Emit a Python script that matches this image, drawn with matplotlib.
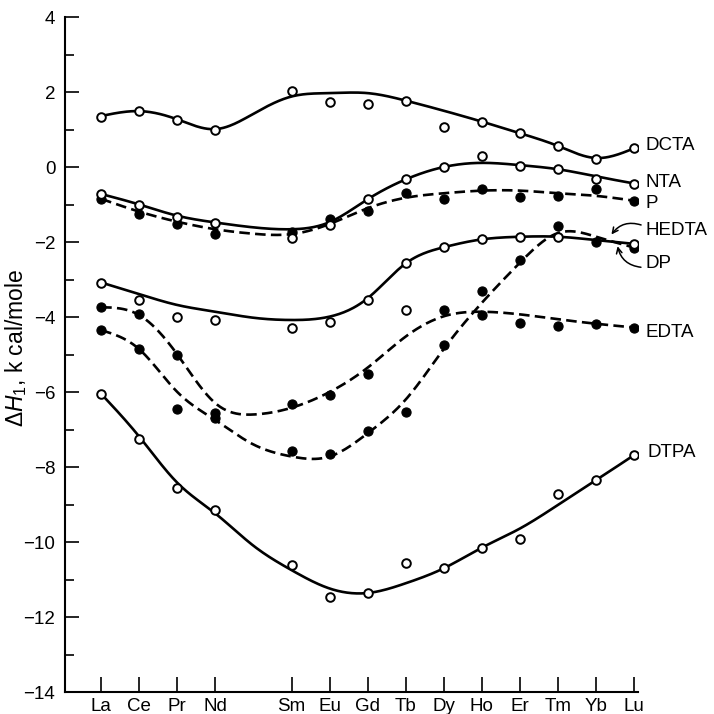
import matplotlib
matplotlib.use("Agg")
import matplotlib.pyplot as plt
import numpy as np

plt.rcParams['font.family'] = ['Liberation Sans', 'DejaVu Sans']
plt.rcParams['mathtext.fontset'] = 'custom'
plt.rcParams['mathtext.rm'] = 'Liberation Sans'
plt.rcParams['mathtext.it'] = 'Liberation Sans:italic'

# element labels and atomic numbers (Pm has no data)
elements = ['La', 'Ce', 'Pr', 'Nd', 'Sm', 'Eu', 'Gd', 'Tb', 'Dy', 'Ho', 'Er', 'Tm', 'Yb', 'Lu']
z_pts = [57, 58, 59, 60, 62, 63, 64, 65, 66, 67, 68, 69, 70, 71]
z_curve = list(range(57, 72))   # La .. Lu incl. Pm

# measured points
dcta_pts = [1.34, 1.50, 1.25, 0.99, 2.03, 1.74, 1.68, 1.77, 1.06, 1.21, 0.90, 0.56, 0.21, 0.50]
nta_pts = [-0.73, -1.00, -1.32, -1.48, -1.88, -1.55, -0.84, -0.33, 0.01, 0.29, 0.03, -0.04, -0.33, -0.44]
p_pts = [-0.85, -1.24, -1.52, -1.79, -1.72, -1.39, -1.16, -0.68, -0.84, -0.59, -0.81, -0.76, -0.59, -0.90]
dp_pts = [-3.08, -3.55, -4.01, -4.08, -4.30, -4.12, -3.55, -2.57, -2.14, -1.93, -1.86, -1.86, np.nan, -2.05]
dp_extra_z = [65]
dp_extra_pts = [-3.81]
edta_pts = [-3.74, -3.92, -5.01, -6.55, -6.32, -6.08, -5.52, np.nan, -3.81, -3.95, -4.17, -4.24, -4.19, -4.28]
hedta_pts = [-4.35, -4.86, -6.44, -6.68, -7.57, -7.66, -7.03, -6.52, -4.75, -3.30, -2.48, -1.57, -1.99, -2.17]
dtpa_pts = [-6.05, -7.25, -8.57, -9.15, -10.60, -11.47, -11.35, -10.55, -10.70, -10.15, -9.93, -8.72, -8.35, -7.68]

# hand-drawn curves, read at each element position (La..Lu incl. Pm)
dcta_curve = [1.36, 1.49, 1.27, 1.01, 1.42, 1.88, 1.97, 1.97, 1.77, 1.50, 1.21, 0.90, 0.56, 0.24, 0.50]
nta_curve = [-0.72, -1.00, -1.30, -1.48, -1.61, -1.66, -1.47, -0.86, -0.33, 0.00, 0.11, 0.05, -0.06, -0.25, -0.44]
p_curve = [-0.85, -1.19, -1.46, -1.66, -1.78, -1.79, -1.52, -1.10, -0.82, -0.70, -0.63, -0.63, -0.70, -0.77, -0.90]
dp_curve = [-3.08, -3.39, -3.68, -3.86, -4.02, -4.08, -3.99, -3.50, -2.57, -2.14, -1.93, -1.86, -1.86, -1.95, -2.05]
edta_curve = [-3.74, -3.95, -5.00, -6.30, -6.60, -6.42, -6.00, -5.35, -4.52, -3.98, -3.86, -3.93, -4.06, -4.18, -4.28]
hedta_curve = [-4.35, -4.86, -6.00, -6.75, -7.40, -7.72, -7.72, -7.10, -6.20, -4.85, -3.62, -2.55, -1.76, -1.86, -2.15]
dtpa_curve = [-6.05, -7.19, -8.42, -9.24, -10.10, -10.75, -11.24, -11.36, -11.10, -10.70, -10.15, -9.64, -9.01, -8.35, -7.68]


def smooth(xk, yk, n=24):
    # natural cubic spline through the read knots, only for drawing the line
    xk = np.asarray(xk, float)
    yk = np.asarray(yk, float)
    k = len(xk)
    h = np.diff(xk)
    A = np.zeros((k, k))
    b = np.zeros(k)
    A[0, 0] = A[-1, -1] = 1
    for i in range(1, k - 1):
        A[i, i - 1] = h[i - 1]
        A[i, i] = 2 * (h[i - 1] + h[i])
        A[i, i + 1] = h[i]
        b[i] = 6 * ((yk[i + 1] - yk[i]) / h[i] - (yk[i] - yk[i - 1]) / h[i - 1])
    M = np.linalg.solve(A, b)
    xs, ys = [], []
    for i in range(k - 1):
        t = np.linspace(0, h[i], n, endpoint=False)
        a = (h[i] - t) / h[i]
        c = t / h[i]
        y = (a * yk[i] + c * yk[i + 1]
             + ((a**3 - a) * M[i] + (c**3 - c) * M[i + 1]) * h[i]**2 / 6)
        xs.append(xk[i] + t)
        ys.append(y)
    xs.append([xk[-1]])
    ys.append([yk[-1]])
    return np.concatenate(xs), np.concatenate(ys)


fig = plt.figure(figsize=(7.14, 7.14), dpi=100)
ax = fig.add_axes([65 / 714, 1 - 692 / 714, 573 / 714, 675 / 714])

lw = 1.9
dash = (4.0, 2.0)
curves = [
    (dcta_curve, '-'), (nta_curve, '-'), (p_curve, '--'), (dp_curve, '-'),
    (edta_curve, '--'), (hedta_curve, '--'), (dtpa_curve, '-'),
]
for yk, ls in curves:
    xs, ys = smooth(z_curve, yk)
    line, = ax.plot(xs, ys, color='black', lw=lw, solid_capstyle='round', zorder=2)
    if ls == '--':
        line.set_dashes(dash)

open_kw = dict(ls='none', marker='o', ms=6.2, mfc='white', mec='black', mew=1.4, zorder=4)
fill_kw = dict(ls='none', marker='o', ms=6.6, mfc='black', mec='black', mew=0.8, zorder=3)

ax.plot(z_pts, p_pts, **fill_kw)
ax.plot(z_pts, edta_pts, **fill_kw)
ax.plot(z_pts, hedta_pts, **fill_kw)
ax.plot(z_pts, dcta_pts, **open_kw)
ax.plot(z_pts, nta_pts, **open_kw)
ax.plot(z_pts, dp_pts, **open_kw)
ax.plot(dp_extra_z, dp_extra_pts, **open_kw)
ax.plot(z_pts, dtpa_pts, **open_kw)

# curve labels
lab_fs = 13.5
ax.text(71.3, 0.58, 'DCTA', fontsize=lab_fs, va='center', ha='left')
ax.text(71.3, -0.40, 'NTA', fontsize=lab_fs, va='center', ha='left')
ax.text(71.3, -0.97, 'P', fontsize=lab_fs, va='center', ha='left')
ax.text(71.3, -1.68, 'HEDTA', fontsize=lab_fs, va='center', ha='left')
ax.text(71.3, -2.58, 'DP', fontsize=lab_fs, va='center', ha='left')
ax.text(71.3, -4.40, 'EDTA', fontsize=lab_fs, va='center', ha='left')
ax.text(71.35, -7.62, 'DTPA', fontsize=lab_fs, va='center', ha='left')

arrow = dict(arrowstyle='->', color='black', lw=1.1, mutation_scale=10)
ax.annotate('', xy=(70.36, -1.86), xytext=(71.25, -1.57),
            arrowprops=dict(connectionstyle='arc3,rad=0.4', **arrow), annotation_clip=False)
ax.annotate('', xy=(70.55, -2.04), xytext=(71.25, -2.68),
            arrowprops=dict(connectionstyle='arc3,rad=-0.4', **arrow), annotation_clip=False)

ax.set_xlim(56.05, 71.1)
ax.set_ylim(-14, 4)
ax.set_xticks(z_pts)
ax.set_xticklabels(elements)
ax.set_yticks(np.arange(-14, 5, 2))
ax.set_yticks(np.arange(-13, 4, 2), minor=True)
ax.set_yticklabels(['\u221214', '\u221212', '\u221210', '\u22128', '\u22126', '\u22124', '\u22122', '0', '2', '4'])
ax.tick_params(axis='y', which='major', direction='in', length=10, width=1.2, pad=7, labelsize=13.5)
ax.tick_params(axis='y', which='minor', direction='in', length=6.5, width=1.2)
ax.tick_params(axis='x', which='major', direction='in', length=11, width=1.2, pad=4, labelsize=13.5)

for s in ['top', 'right']:
    ax.spines[s].set_visible(False)
for s in ['left', 'bottom']:
    ax.spines[s].set_linewidth(1.5)

ax.set_ylabel(r'$\Delta H_1$, k cal/mole', fontsize=16.5)
ax.yaxis.set_label_coords(-0.062, 0.51)

fig.savefig('out.png', dpi=100)
